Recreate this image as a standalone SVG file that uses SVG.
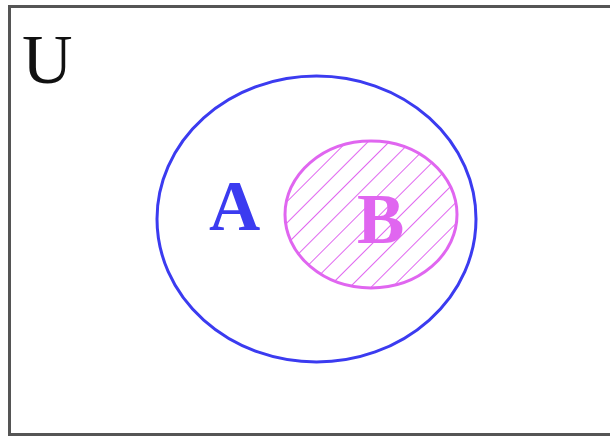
<svg xmlns="http://www.w3.org/2000/svg" width="610" height="438" viewBox="0 0 610 438">
<style>
.frame{fill:none;stroke:#555555;stroke-width:3}
.setA{fill:none;stroke:#3b3bf0;stroke-width:3}
.setB{fill:url(#hatch);stroke:#e066f0;stroke-width:3}
.lbl{font-family:"Liberation Serif","Times New Roman",serif;font-weight:bold;font-size:71px}
</style>
<defs>
<pattern id="hatch" patternUnits="userSpaceOnUse" width="15" height="15" patternTransform="rotate(45)">
<rect width="15" height="15" fill="#ffffff"/>
<line x1="0" y1="0" x2="0" y2="15" stroke="#e066f0" stroke-width="2"/>
</pattern>
</defs>
<rect width="610" height="438" fill="#ffffff"/>
<g id="universe">
<rect class="frame" x="9.5" y="6.5" width="610" height="428"/>
<text x="22" y="83" font-family="Liberation Serif,'Times New Roman',serif" font-size="70" fill="#111">U</text>
</g>
<g id="A">
<ellipse class="setA" cx="316.5" cy="219" rx="159.5" ry="143"/>
<text class="lbl" x="209" y="230" fill="#3b3bf0">A</text>
</g>
<g id="B">
<ellipse class="setB" cx="371" cy="214.5" rx="86" ry="73.5"/>
<text class="lbl" x="357" y="243" fill="#e066f0">B</text>
</g>
<g id="connectors"></g>
</svg>
